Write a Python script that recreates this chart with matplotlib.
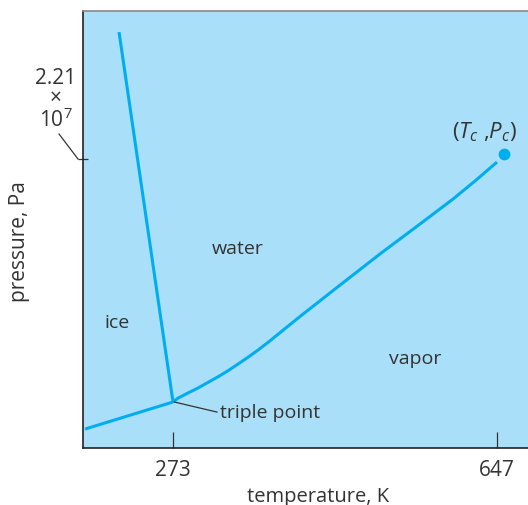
import matplotlib
matplotlib.use("Agg")
import matplotlib.pyplot as plt
from matplotlib.lines import Line2D

plt.rcParams['font.family'] = ['Open Sans', 'DejaVu Sans']
plt.rcParams['mathtext.fontset'] = 'custom'
plt.rcParams['mathtext.rm'] = 'Open Sans'
plt.rcParams['mathtext.it'] = 'Open Sans:italic'

# phase boundaries of water (schematic), temperature in K, pressure in Pa
t_triple, p_triple = 273, 0.352e7
t_sub = [171.4, 273]
p_sub = [0.145e7, 0.352e7]
t_melt = [273, 210.7]
p_melt = [0.352e7, 3.181e7]
t_vap = [273, 278.8, 290.3, 301.9, 313.4, 325.0, 336.5, 348.0, 359.6, 371.1,
         382.7, 419.6, 465.8, 511.9, 558.1, 596.2, 621.6, 647.0]
p_vap = [0.352e7, 0.382e7, 0.421e7, 0.459e7, 0.502e7, 0.545e7, 0.591e7, 0.642e7,
         0.694e7, 0.749e7, 0.808e7, 1.006e7, 1.246e7, 1.484e7, 1.713e7,
         1.904e7, 2.042e7, 2.187e7]
t_crit, p_crit = 655.4, 2.248e7

x_ticks = [273, 647]
y_tick = 2.21e7

line_col = '#00aeef'
text_col = '#333333'

fig = plt.figure(figsize=(5.28, 5.06), dpi=100)
ax = fig.add_axes([0.1572, 0.1126, 0.8428, 0.8636])
ax.set_facecolor('#aadff9')
ax.set_xlim(169.1, 682.8)
ax.set_ylim(0, 3.342e7)

ax.plot(t_sub, p_sub, color=line_col, lw=2.2, solid_capstyle='butt')
ax.plot(t_melt, p_melt, color=line_col, lw=2.2, solid_capstyle='butt')
ax.plot(t_vap, p_vap, color=line_col, lw=2.2, solid_capstyle='butt')
ax.plot([t_crit], [p_crit], 'o', color=line_col, ms=8.5, mec='none')

# region labels
ax.text(208.3, 0.963e7, 'ice', fontsize=14, color=text_col, ha='center', va='center')
ax.text(348, 1.53e7, 'water', fontsize=14, color=text_col, ha='center', va='center')
ax.text(552.4, 0.688e7, 'vapor', fontsize=14, color=text_col, ha='center', va='center')
ax.text(632, 2.42e7, r'($T_c$ ,$P_c$)', fontsize=16, color=text_col, ha='center', va='center')

# triple point callout
ax.plot([274.5, 323.8], [0.352e7, 0.275e7], color=text_col, lw=0.9)
ax.text(327, 0.275e7, 'triple point', fontsize=14, color=text_col, ha='left', va='center')

ax.set_xticks(x_ticks)
ax.set_xticklabels([str(t) for t in x_ticks], fontsize=15, color=text_col)
ax.tick_params(axis='x', direction='in', length=11.5, width=0.9, color=text_col, pad=8)
ax.set_yticks([y_tick])
ax.set_yticklabels([''])
ax.tick_params(axis='y', direction='inout', length=7.2, width=0.9, color=text_col)

# critical pressure label with a leader to its tick
fig.text(56 / 528, 1 - 100 / 506, '2.21\n×\n10$^7$', ha='center', va='center',
         fontsize=15, color=text_col, linespacing=0.95)
fig.add_artist(Line2D([59 / 528, 78 / 528], [1 - 135 / 506, 1 - 160 / 506],
                      color=text_col, lw=0.9))

fig.text(20 / 528, 1 - 242 / 506, 'pressure, Pa', rotation=90, ha='center', va='center',
         fontsize=15, color=text_col)
fig.text(318 / 528, 1 - 487 / 506, 'temperature, K', ha='center', va='top',
         fontsize=14.5, color=text_col)

ax.spines['right'].set_visible(False)
ax.spines['top'].set_color('#888888')
ax.spines['left'].set_color('#222222')
ax.spines['bottom'].set_color('#222222')
for s in ('top', 'left', 'bottom'):
    ax.spines[s].set_linewidth(1.2)

fig.savefig('out.png', dpi=100)
